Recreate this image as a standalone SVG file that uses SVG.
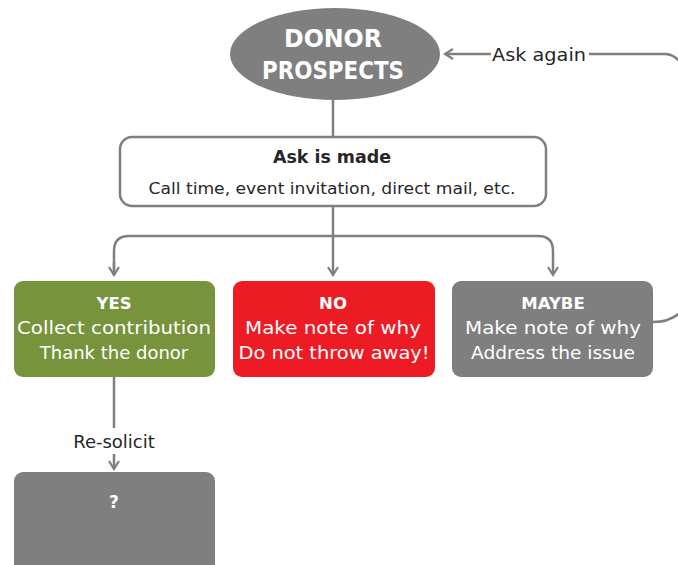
<svg xmlns="http://www.w3.org/2000/svg" width="678" height="565" viewBox="0 0 678 565">
<defs>
<marker id="arr" viewBox="0 0 12 12" refX="10" refY="6" markerWidth="12" markerHeight="12" markerUnits="userSpaceOnUse" orient="auto">
<path d="M2,1 L10,6 L2,11" fill="none" stroke="#7f7f7f" stroke-width="2.2"/>
</marker>
<style>
.c{fill:none;stroke:#7f7f7f;stroke-width:2.5}
text{font-family:"DejaVu Sans","Liberation Sans",sans-serif;text-anchor:middle}
.w{fill:#fff}
.d{fill:#262626}
.b{font-weight:bold}
</style>
</defs>
<rect width="678" height="565" fill="#fff"/>
<g id="connectors">
<path class="c" d="M333,100 V137"/>
<path class="c" d="M333,206 V275" marker-end="url(#arr)"/>
<path class="c" d="M114,275 V251 Q114,236 129,236 H538 Q553,236 553,251 V275" marker-end="url(#arr)"/>
<path class="c" d="M114,262 V275" marker-end="url(#arr)"/>
<path class="c" d="M653,322 Q678,322 690,300 M690,80 Q680,54 665,54 H589"/>
<path class="c" d="M491,54 H445" marker-end="url(#arr)"/>
<path class="c" d="M114,377 V428"/>
<path class="c" d="M114,454 V469" marker-end="url(#arr)"/>
<text class="d" x="539" y="61" font-size="18" textLength="94" lengthAdjust="spacingAndGlyphs">Ask again</text>
<text class="d" x="114" y="448" font-size="18">Re-solicit</text>
</g>
<g id="donor">
<ellipse cx="335" cy="54" rx="105" ry="46" fill="#7f7f7f"/>
<text class="w b" x="333" y="47" font-size="24" textLength="98" lengthAdjust="spacingAndGlyphs">DONOR</text>
<text class="w b" x="333" y="79" font-size="24" textLength="142" lengthAdjust="spacingAndGlyphs">PROSPECTS</text>
</g>
<g id="ask">
<rect x="120" y="137" width="426" height="69" rx="12" fill="#fff" stroke="#7f7f7f" stroke-width="2.5"/>
<text class="d b" x="332" y="163" font-size="17.5" textLength="118" lengthAdjust="spacingAndGlyphs">Ask is made</text>
<text class="d" x="332" y="194" font-size="16" textLength="367" lengthAdjust="spacingAndGlyphs">Call time, event invitation, direct mail, etc.</text>
</g>
<g id="yes">
<rect x="14" y="281" width="201" height="96" rx="9" fill="#77933c"/>
<text class="w b" x="114" y="309" font-size="16.5">YES</text>
<text class="w" x="114" y="334" font-size="18" textLength="194" lengthAdjust="spacingAndGlyphs">Collect contribution</text>
<text class="w" x="114" y="359" font-size="18">Thank the donor</text>
</g>
<g id="no">
<rect x="233" y="281" width="202" height="96" rx="9" fill="#ed1c24"/>
<text class="w b" x="333" y="309" font-size="16.5">NO</text>
<text class="w" x="333" y="334" font-size="18" textLength="176" lengthAdjust="spacingAndGlyphs">Make note of why</text>
<text class="w" x="334" y="359" font-size="18" textLength="191" lengthAdjust="spacingAndGlyphs">Do not throw away!</text>
</g>
<g id="maybe">
<rect x="452" y="281" width="201" height="96" rx="9" fill="#7f7f7f"/>
<text class="w b" x="553" y="309" font-size="16.5">MAYBE</text>
<text class="w" x="553" y="334" font-size="18" textLength="176" lengthAdjust="spacingAndGlyphs">Make note of why</text>
<text class="w" x="553" y="359" font-size="18" textLength="164" lengthAdjust="spacingAndGlyphs">Address the issue</text>
</g>
<g id="unknown">
<rect x="14" y="472" width="201" height="110" rx="9" fill="#7f7f7f"/>
<text class="w b" x="114" y="508" font-size="17">?</text>
</g>
</svg>
